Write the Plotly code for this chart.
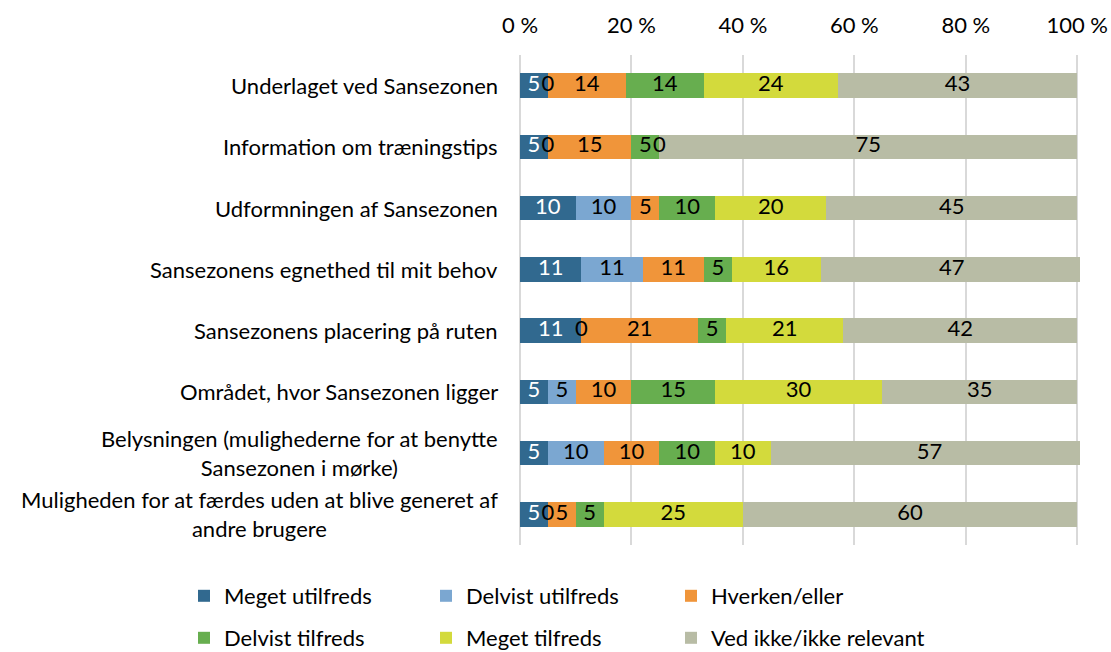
import plotly.graph_objects as go

categories = [
    "Underlaget ved Sansezonen",
    "Information om træningstips",
    "Udformningen af Sansezonen",
    "Sansezonens egnethed til mit behov",
    "Sansezonens placering på ruten",
    "Området, hvor Sansezonen ligger",
    "Belysningen (mulighederne for at benytte<br>Sansezonen i mørke)",
    "Muligheden for at færdes uden at blive generet af<br>andre brugere",
]

meget_utilfreds = [5, 5, 10, 11, 11, 5, 5, 5]
delvist_utilfreds = [0, 0, 10, 11, 0, 5, 10, 0]
hverken_eller = [14, 15, 5, 11, 21, 10, 10, 5]
delvist_tilfreds = [14, 5, 10, 5, 5, 15, 10, 5]
meget_tilfreds = [24, 0, 20, 16, 21, 30, 10, 25]
ved_ikke = [43, 75, 45, 47, 42, 35, 57, 60]

series_names = ["Meget utilfreds", "Delvist utilfreds", "Hverken/eller",
                "Delvist tilfreds", "Meget tilfreds", "Ved ikke/ikke relevant"]
series_values = [meget_utilfreds, delvist_utilfreds, hverken_eller,
                 delvist_tilfreds, meget_tilfreds, ved_ikke]
colors = ["#31698F", "#7BA7D1", "#F0953A", "#67AE4F", "#D3DA3C", "#B8BCA5"]
text_colors = ["white", "black", "black", "black", "black", "black"]

tick_vals = [0, 20, 40, 60, 80, 100]
tick_text = ["0 %", "20 %", "40 %", "60 %", "80 %", "100 %"]

FONT = "Lato"
FS = 22

W, H = 1111, 652
# legend grid: three columns, two rows (pixel positions of the legend boxes)
legend_cols = [184, 426, 671]
legend_rows = [596, 638]

fig = go.Figure()

label_traces = []
cum = [0] * len(categories)
for k, (name, vals, col, tcol) in enumerate(zip(series_names, series_values, colors, text_colors)):
    lx = [cum[i] + v / 2 for i, v in enumerate(vals)]
    label_traces.append(dict(x=lx, y=categories, text=[str(v) for v in vals], color=tcol))
    cum = [cum[i] + v for i, v in enumerate(vals)]
    fig.add_trace(go.Bar(
        name=name, y=categories, x=vals, orientation="h",
        marker=dict(color=col, line=dict(width=0)),
        legend="legend" if k == 0 else f"legend{k + 1}",
        hoverinfo="x+name",
    ))

for lt in label_traces:
    fig.add_trace(go.Scatter(
        x=lt["x"], y=lt["y"], mode="text", text=lt["text"],
        textposition="middle center",
        textfont=dict(family=FONT, size=FS, color=lt["color"]),
        showlegend=False, hoverinfo="skip", cliponaxis=False,
    ))

for c in categories:
    fig.add_annotation(
        x=0, xref="paper", y=c, yref="y", text=c, showarrow=False,
        xanchor="right", yanchor="middle", align="center", xshift=-20,
        font=dict(family=FONT, size=FS, color="black"),
    )

legends = {}
for k in range(6):
    key = "legend" if k == 0 else f"legend{k + 1}"
    legends[key] = dict(
        orientation="h", xref="container", yref="container",
        x=legend_cols[k % 3] / W, xanchor="left",
        y=1 - legend_rows[k // 3] / H, yanchor="middle",
        font=dict(family=FONT, size=FS, color="black"), itemwidth=30,
        bgcolor="rgba(0,0,0,0)",
    )

fig.update_layout(
    width=W, height=H,
    margin=dict(l=520, r=31, t=55, b=107, autoexpand=False),
    barmode="stack", bargap=0.6,
    plot_bgcolor="white", paper_bgcolor="white",
    font=dict(family=FONT, size=FS, color="black"),
    xaxis=dict(
        side="top", range=[0, 100.5], tickvals=tick_vals, ticktext=tick_text,
        showgrid=True, gridcolor="#D9D9D9", gridwidth=1.5,
        zeroline=True, zerolinecolor="#D9D9D9", zerolinewidth=1.5,
        showline=False, ticks="", ticklabelstandoff=17, automargin=False,
        tickfont=dict(family=FONT, size=FS, color="black"),
    ),
    yaxis=dict(
        categoryorder="array", categoryarray=categories, autorange="reversed",
        showticklabels=False, showgrid=False, zeroline=False, ticks="",
        automargin=False,
    ),
    **legends,
)

fig.write_html(
    "out.html",
    config={"displayModeBar": False},
    post_script="document.body.style.margin='0';document.body.style.overflow='hidden';",
)
